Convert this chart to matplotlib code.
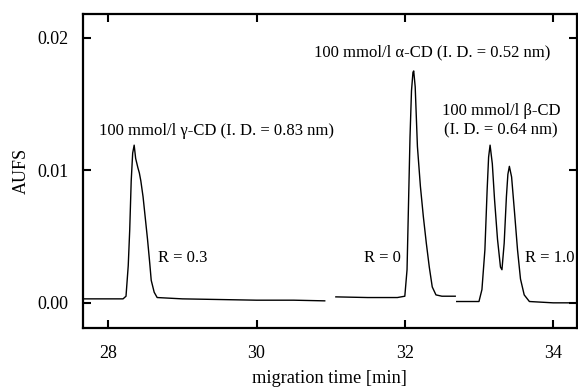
import matplotlib
matplotlib.use("Agg")
import matplotlib.pyplot as plt

plt.rcParams['font.family'] = ['Liberation Serif', 'DejaVu Serif']

# gamma-CD trace
t_gamma = [27.68, 28.0, 28.2, 28.24, 28.27, 28.29, 28.31, 28.33, 28.35, 28.37, 28.40, 28.42,
           28.44, 28.47, 28.50, 28.53, 28.56, 28.58, 28.62, 28.66, 29.0, 29.5, 30.0, 30.5, 30.92]
a_gamma = [0.0003, 0.0003, 0.0003, 0.0005, 0.0028, 0.0055, 0.0092, 0.0113, 0.0119, 0.0109, 0.0102, 0.0098,
           0.0092, 0.0080, 0.0064, 0.0048, 0.0030, 0.0017, 0.0008, 0.0004, 0.0003, 0.00025, 0.0002, 0.0002, 0.00015]

# alpha-CD trace
t_alpha = [31.07, 31.5, 31.9, 32.0, 32.03, 32.05, 32.07, 32.09, 32.11, 32.12, 32.14, 32.17,
           32.21, 32.25, 32.29, 32.33, 32.37, 32.42, 32.50, 32.68]
a_alpha = [0.00045, 0.0004, 0.0004, 0.0005, 0.0025, 0.0075, 0.0125, 0.0160, 0.0174, 0.0175, 0.0163, 0.0118,
           0.0088, 0.0065, 0.0045, 0.0027, 0.0012, 0.0006, 0.0005, 0.0005]

# beta-CD trace
t_beta = [32.70, 33.0, 33.04, 33.08, 33.11, 33.13, 33.15, 33.18, 33.21, 33.25, 33.29, 33.31,
          33.34, 33.37, 33.39, 33.41, 33.44, 33.48, 33.52, 33.56, 33.61, 33.68, 34.0, 34.32]
a_beta = [0.0001, 0.0001, 0.0010, 0.0040, 0.0085, 0.0110, 0.0119, 0.0105, 0.0078, 0.0048, 0.0027, 0.0025,
          0.0045, 0.0080, 0.0097, 0.0103, 0.0095, 0.0068, 0.0040, 0.0018, 0.0006, 0.0001, 0.0, 0.0]

x_ticks = [28, 30, 32, 34]
y_ticks = [0.00, 0.01, 0.02]
y_ticklabels = ["0.00", "0.01", "0.02"]

fig = plt.figure(figsize=(5.78, 3.88), dpi=100)
ax = fig.add_axes([0.1436, 0.1546, 0.8544, 0.8094])

for t, a in [(t_gamma, a_gamma), (t_alpha, a_alpha), (t_beta, a_beta)]:
    ax.plot(t, a, color='black', lw=1.0)

ax.set_xlim(27.66, 34.32)
ax.set_ylim(-0.0019, 0.0218)
ax.set_xticks(x_ticks)
ax.set_yticks(y_ticks)
ax.set_yticklabels(y_ticklabels)
ax.tick_params(direction='in', length=6, width=1.5, top=True, right=True, labelsize=13)
ax.tick_params(axis='x', pad=12)
ax.tick_params(axis='y', pad=10.5)
for s in ax.spines.values():
    s.set_linewidth(1.6)

ax.set_xlabel("migration time [min]", fontsize=13.2, labelpad=6)
ax.set_ylabel("AUFS", fontsize=13, labelpad=5)

fs = 12
ax.text(27.87, 0.0130, "100 mmol/l γ-CD (I. D. = 0.83 nm)", fontsize=fs, ha='left', va='center')
ax.text(28.67, 0.0034, "R = 0.3", fontsize=fs, ha='left', va='center')
ax.text(32.37, 0.0189, "100 mmol/l α-CD (I. D. = 0.52 nm)", fontsize=fs, ha='center', va='center')
ax.text(31.95, 0.0034, "R = 0", fontsize=fs, ha='right', va='center')
ax.text(33.30, 0.0145, "100 mmol/l β-CD", fontsize=fs, ha='center', va='center')
ax.text(33.30, 0.0130, "(I. D. = 0.64 nm)", fontsize=fs, ha='center', va='center')
ax.text(33.62, 0.0034, "R = 1.0", fontsize=fs, ha='left', va='center')

fig.savefig("out.png", dpi=100)
